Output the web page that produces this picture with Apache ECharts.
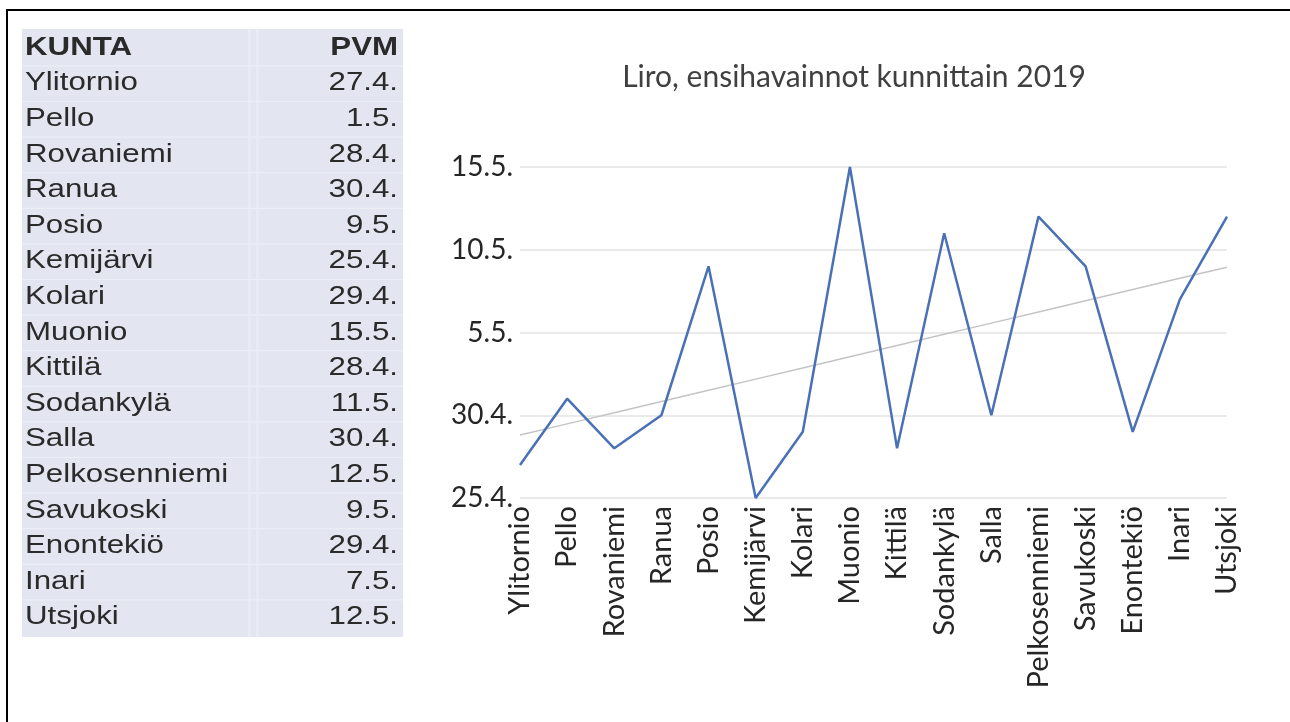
<!DOCTYPE html>
<html>
<head>
<meta charset="utf-8">
<script src="https://cdn.jsdelivr.net/npm/echarts@6/dist/echarts.min.js"></script>
<style>
html,body{margin:0;padding:0;background:#fff;}
#chart{width:1290px;height:722px;}
</style>
</head>
<body>
<div id="chart"></div>
<script>
// ---- data ----
const municipalities = ['Ylitornio','Pello','Rovaniemi','Ranua','Posio','Kemijärvi','Kolari','Muonio','Kittilä','Sodankylä','Salla','Pelkosenniemi','Savukoski','Enontekiö','Inari','Utsjoki'];
const firstDates = ['27.4.','1.5.','28.4.','30.4.','9.5.','25.4.','29.4.','15.5.','28.4.','11.5.','30.4.','12.5.','9.5.','29.4.','7.5.','12.5.'];
const tableHeader = ['KUNTA','PVM'];
const chartTitle = 'Liro, ensihavainnot kunnittain 2019';
const yMinDate = '25.4.';
const yMaxDate = '15.5.';
const yStepDays = 5;

// ---- helpers: date <-> day of year (2019) ----
const cumDays = [0,31,59,90,120,151,181];
function dayOfYear(s){ const p = s.split('.'); return cumDays[Number(p[1])-1] + Number(p[0]); }
function dateLabel(v){ let m = 0; while (m < 11 && cumDays[m+1] < v) m++; return (v - cumDays[m]) + '.' + (m+1) + '.'; }

const values = firstDates.map(dayOfYear);

// linear trend (least squares) from the data
const n = values.length;
const mx = (n - 1) / 2;
const my = values.reduce((a,b)=>a+b,0) / n;
let sxy = 0, sxx = 0;
values.forEach((v,i)=>{ sxy += (i-mx)*(v-my); sxx += (i-mx)*(i-mx); });
const slope = sxy / sxx, icpt = my - slope*mx;
const trend = values.map((v,i)=> icpt + slope*i);

// ---- table as graphic text ----
const tLeft = 25, tRight = 398, tTop = 48, tStep = 35.6;
const tableEls = [];
tableEls.push({type:'rect', shape:{x:22,y:29,width:381,height:608}, style:{fill:'#e3e6f1'}, z:1});
tableEls.push({type:'rect', shape:{x:248,y:29,width:3,height:608}, style:{fill:'#e8ebf4'}, z:2});
tableEls.push({type:'rect', shape:{x:256,y:29,width:3,height:608}, style:{fill:'#e8ebf4'}, z:2});
for (let r = 0; r < municipalities.length; r++) {
  const yb = tTop + tStep*(r+0.5);
  tableEls.push({type:'rect', shape:{x:22,y:yb-0.5,width:381,height:1.2}, style:{fill:'#eceef6'}, z:2});
}
function tText(txt, x, y, align, bold){
  return {type:'text', x:x, y:y, scaleX:1.25, z:5,
    style:{text:txt, font:(bold?'bold ':'')+'25px "Liberation Sans", Arial, sans-serif', fill:'#2a2a2a',
      align:align, verticalAlign:'middle', textAlign:align, textVerticalAlign:'middle'}};
}
tableEls.push(tText(tableHeader[0], tLeft, tTop, 'left', true));
tableEls.push(tText(tableHeader[1], tRight, tTop, 'right', true));
municipalities.forEach((m,i)=>{
  const y = tTop + tStep*(i+1);
  tableEls.push(tText(m, tLeft, y, 'left', false));
  tableEls.push(tText(firstDates[i], tRight, y, 'right', false));
});
// outer frame (top and left edges)
tableEls.push({type:'rect', shape:{x:6,y:9,width:1284,height:2}, style:{fill:'#000'}, z:10});
tableEls.push({type:'rect', shape:{x:6,y:9,width:2,height:713}, style:{fill:'#000'}, z:10});

const chart = echarts.init(document.getElementById('chart'), null, {renderer:'canvas'});
chart.setOption({
  backgroundColor:'#ffffff',
  animation:false,
  title:{
    text: chartTitle, left: 849, top: 57, textAlign:'center',
    textStyle:{fontFamily:'Lato', fontSize:30, fontWeight:'normal', color:'#404040'}
  },
  grid:{left:520, right:63, top:167, bottom:224, containLabel:false},
  xAxis:{
    type:'category', data: municipalities, boundaryGap:false,
    axisLine:{show:false}, axisTick:{show:false},
    axisLabel:{rotate:90, interval:0, margin:8, fontFamily:'Lato', fontSize:29, color:'#262626'}
  },
  yAxis:{
    type:'value', min: dayOfYear(yMinDate), max: dayOfYear(yMaxDate), interval: yStepDays,
    axisLine:{show:false}, axisTick:{show:false},
    splitLine:{lineStyle:{color:'#e3e3e3', width:1.5}},
    axisLabel:{formatter: v => dateLabel(v), margin:7, fontFamily:'Lato', fontSize:28, color:'#262626'}
  },
  graphic: tableEls,
  series:[
    {type:'line', data: values, symbol:'none', lineStyle:{color:'#4a70b6', width:2.5}, z:3},
    {type:'line', data: trend, symbol:'none', lineStyle:{color:'#c4c4c4', width:1.5}, z:2}
  ]
});
</script>
</body>
</html>
